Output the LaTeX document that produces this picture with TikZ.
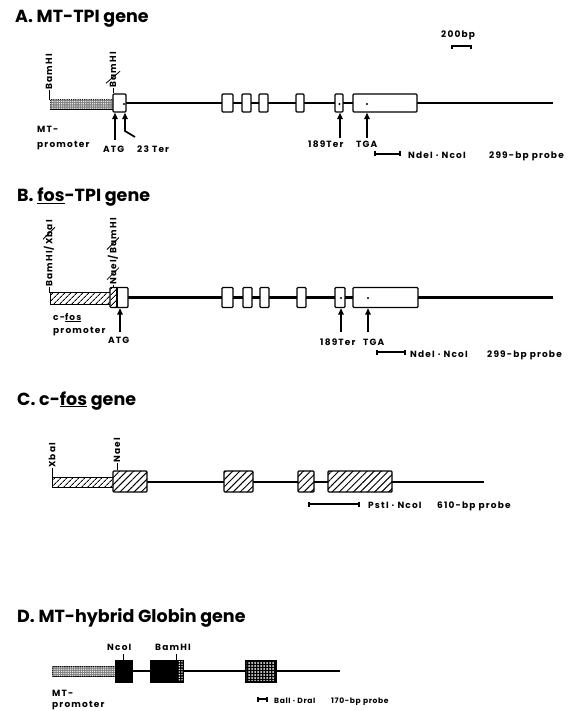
\documentclass[tikz,border=0pt]{standalone}
\usepackage{fontspec}
\setmainfont{Poppins}
\usetikzlibrary{patterns,patterns.meta,arrows.meta,calc}
\newcommand\lblf{\fontsize{9}{9}\selectfont\bfseries\addfontfeature{LetterSpace=13}}
\newcommand\smlf{\fontsize{7.6}{8}\selectfont\bfseries\addfontfeature{LetterSpace=8}}
\newcommand\ttlf{\fontsize{17.5}{20}\selectfont\bfseries}
\begin{document}
\begin{tikzpicture}[x=1pt,y=-1pt,
  lbl/.style={font=\lblf, inner sep=0pt, anchor=base west},
  slbl/.style={font=\smlf, inner sep=0pt, anchor=base west},
  ttl/.style={font=\ttlf, inner sep=0pt, anchor=base west},
  rlbl/.style={font=\lblf, inner sep=0pt, rotate=90, anchor=west},
  gline/.style={line width=2.7pt},
  exon/.style={draw, line width=1.4pt, fill=white, rounded corners=1pt, inner sep=0pt},
  prom/.style={draw, line width=0.8pt},
  stip/.style={fill=black!50, postaction={pattern={Dots[distance=2.2pt,radius=0.65pt]}, pattern color=white}},
  hatch/.style={fill=white, postaction={pattern={Lines[angle=45,distance=4pt,line width=0.9pt]}}},
  bighatch/.style={postaction={pattern={Lines[angle=45,distance=5pt,line width=1pt]}}},
  upar/.style={line width=1.7pt, -{Triangle[length=6.5pt,width=5.5pt]}},
  probe/.style={line width=1.9pt, {Bar[width=5pt]}-{Bar[width=5pt]}},
  tickl/.style={line width=1pt},
  strike/.style={line width=0.8pt},
  dotm/.style={circle, fill, inner sep=0pt, minimum size=2.2pt},
  blk/.style={draw, fill=black, line width=1pt, minimum height=22pt, inner sep=0pt}
]
\useasboundingbox (0,0) rectangle (579,711);

%% ---------------- A ----------------
\node[ttl] (tA) at (15,23) {A. MT-TPI gene};
\node[lbl] (sbar) at (441,38) {200bp};
\coordinate (sb1) at (452,46); \coordinate (sb2) at (471,46);
\draw[line width=1.2pt] ([yshift=-3pt]sb1) -- (sb1) -- (sb2) -- ([yshift=-3pt]sb2);

\coordinate (lA0) at (113,103); \coordinate (lA1) at (553,103);
\draw[gline] (lA0) -- (lA1);
\draw[prom, stip] (50,99) rectangle (113,109);
\node[exon, minimum width=13pt, minimum height=18pt] (a1) at (119.5,103) {};
\node[exon, minimum width=11pt, minimum height=18pt] (a2) at (227.5,103) {};
\node[exon, minimum width=9pt, minimum height=18pt] (a3) at (246.5,103) {};
\node[exon, minimum width=9pt, minimum height=18pt] (a4) at (263.5,103) {};
\node[exon, minimum width=8pt, minimum height=18pt] (a5) at (300,103) {};
\node[exon, minimum width=8pt, minimum height=18pt] (a6) at (339,103) {};
\node[exon, minimum width=64pt, minimum height=18pt] (a7) at (385,103) {};
\node[dotm] (da1) at (124,104) {};
\node[dotm] (da6) at (339.5,104) {};
\node[dotm] (da7) at (367,104) {};

\node[rlbl] (bA1) at (49,90) {BamHI};
\draw[tickl] (bA1.west) -- (49,100);
\node[rlbl] (bA2) at (113,88) {BamHI};
\draw[tickl] (bA2.west) -- (a1.north -| bA2.west);
\coordinate (sA2) at ($(bA2.west)!0.3!(bA2.east)$);
\draw[strike] ([shift={(-7,6)}]sA2) -- ([shift={(7,-6)}]sA2);

\node[lbl] (mtA) at (37,133) {MT-};
\node[lbl] (prA) at (37,148) {promoter};
\node[lbl] (atgA) at (103,153) {ATG};
\node[lbl] (terA) at (137,153) {23 Ter};
\coordinate (atgAt) at (115,140);
\draw[upar] (atgAt) -- (atgAt |- a1.south);
\coordinate (terAt) at (135,137); \coordinate (terAk) at (125,131);
\draw[upar] (terAt) -- (terAk) -- (terAk |- a1.south);
\node[lbl] (t189A) at (308,148) {189Ter};
\node[lbl] (tgaA) at (356,148) {TGA};
\coordinate (a189) at (340,138); \coordinate (atga) at (367,138);
\draw[upar] (a189) -- (a189 |- a6.south);
\draw[upar] (atga) -- (atga |- a7.south);
\coordinate (pA1) at (374,154); \coordinate (pA2) at (401,154);
\draw[probe] (pA1) -- (pA2);
\node[lbl] (pAt1) at (408,159) {NdeI · NcoI};
\node[lbl] (pAt2) at (489,159) {299-bp probe};

%% ---------------- B ----------------
\node[ttl] (tB) at (17,202) {B. \underline{fos}-TPI gene};
\coordinate (lB0) at (128,297.5); \coordinate (lB1) at (553,297.5);
\draw[gline] (lB0) -- (lB1);
\draw[prom, hatch] (50,292) rectangle (110,304);
\node[exon, minimum width=18pt, minimum height=20pt] (b1) at (119,297.5) {};
\fill[pattern={Lines[angle=45,distance=4pt,line width=0.9pt]}] (110.6,288.2) rectangle (117,306.8);
\draw[line width=1.1pt] (117,288) -- (117,307);
\node[exon, minimum width=11pt, minimum height=20pt] (b2) at (227.5,297.5) {};
\node[exon, minimum width=9pt, minimum height=20pt] (b3) at (247.5,297.5) {};
\node[exon, minimum width=9pt, minimum height=20pt] (b4) at (264.5,297.5) {};
\node[exon, minimum width=9pt, minimum height=20pt] (b5) at (301.5,297.5) {};
\node[exon, minimum width=10pt, minimum height=20pt] (b6) at (340,297.5) {};
\node[exon, minimum width=65pt, minimum height=20pt] (b7) at (385.5,297.5) {};
\node[dotm] (db6) at (341,298) {};
\node[dotm] (db7) at (368,298) {};

\node[rlbl] (bB1) at (49,287) {BamHI/XbaI};
\draw[tickl] (bB1.west) -- (49,293);
\coordinate (sB1) at ($(bB1.west)!0.8!(bB1.east)$);
\draw[strike] ([shift={(-6,6)}]sB1) -- ([shift={(6,-6)}]sB1);
\node[rlbl] (bB2) at (113,285) {NaeI/BamHI};
\draw[tickl] (bB2.west) -- (b1.north -| bB2.west);
\coordinate (sB2) at ($(bB2.west)!0.17!(bB2.east)$);
\coordinate (sB3) at ($(bB2.west)!0.62!(bB2.east)$);
\draw[strike] ([shift={(-6,6)}]sB2) -- ([shift={(6,-6)}]sB2);
\draw[strike] ([shift={(-6,6)}]sB3) -- ([shift={(6,-6)}]sB3);

\node[lbl] (cfB) at (53,320) {c-\underline{fos}};
\node[lbl] (prB) at (53,333) {promoter};
\node[lbl] (atgB) at (108,343) {ATG};
\coordinate (atgBt) at (120,332);
\draw[upar] (atgBt) -- (atgBt |- b1.south);
\node[lbl] (t189B) at (320,345) {189Ter};
\node[lbl] (tgaB) at (363,345) {TGA};
\coordinate (b189) at (341,332); \coordinate (btga) at (368,332);
\draw[upar] (b189) -- (b189 |- b6.south);
\draw[upar] (btga) -- (btga |- b7.south);
\coordinate (pB1) at (376,352); \coordinate (pB2) at (406,352);
\draw[probe] (pB1) -- (pB2);
\node[lbl] (pBt1) at (410,357) {NdeI · NcoI};
\node[lbl] (pBt2) at (487,357) {299-bp probe};

%% ---------------- C ----------------
\node[ttl] (tC) at (17,405) {C. c-\underline{fos} gene};
\coordinate (lC0) at (147,482); \coordinate (lC1) at (484,482);
\draw[gline] (lC0) -- (lC1);
\draw[prom, hatch] (52,477) rectangle (113,487);
\node[exon, bighatch, minimum width=34pt, minimum height=21pt] (c1) at (130,481.5) {};
\node[exon, bighatch, minimum width=29pt, minimum height=21pt] (c2) at (238.5,481.5) {};
\node[exon, bighatch, minimum width=16pt, minimum height=21pt] (c3) at (306,481.5) {};
\node[exon, bighatch, minimum width=64pt, minimum height=21pt] (c4) at (360,481.5) {};
\node[rlbl] (xC) at (52,468) {XbaI};
\draw[tickl] (xC.west) -- (52,477);
\node[rlbl] (nC) at (117,463) {NaeI};
\draw[tickl] (nC.west) -- (c1.north -| nC.west);
\coordinate (pC1) at (308,504); \coordinate (pC2) at (360,504);
\draw[probe] (pC1) -- (pC2);
\node[lbl] (pCt1) at (368,508) {PstI · NcoI};
\node[lbl] (pCt2) at (437,508) {610-bp probe};

%% ---------------- D ----------------
\node[ttl] (tD) at (17,622) {D. MT-hybrid Globin gene};
\coordinate (lD0) at (115,671); \coordinate (lD1) at (340,671);
\draw[line width=1.8pt] (lD0) -- (lD1);
\draw[prom, stip] (52,666) rectangle (115,676);
\node[blk, minimum width=17pt] (d1) at (123.5,671) {};
\node[blk, minimum width=33pt] (d2) at (166.5,671) {};
\fill[pattern={Dots[distance=2.6pt,radius=0.8pt]}, pattern color=white] (178,661) rectangle (182.5,681);
\node[blk, minimum width=31pt] (d3) at (260.5,671) {};
\fill[pattern={Dots[distance=3pt,radius=1pt]}, pattern color=white] (246.5,661.5) rectangle (274.5,680.5);
\node[lbl] (ncoD) at (107,650) {NcoI};
\node[lbl] (bamD) at (155,650) {BamHI};
\coordinate (tkD1) at (123,654); \coordinate (tkD2) at (176,654);
\draw[tickl] (tkD1) -- (tkD1 |- d1.north);
\draw[tickl] (tkD2) -- (tkD2 |- d2.north);
\node[lbl] (mtD) at (52,696) {MT-};
\node[lbl] (prD) at (52,707.5) {promoter};
\coordinate (pD1) at (257,699); \coordinate (pD2) at (268,699);
\draw[probe] (pD1) -- (pD2);
\node[slbl] (pDt1) at (274,703) {BalI · DraI};
\node[slbl] (pDt2) at (331,703) {170-bp probe};
\end{tikzpicture}
\end{document}
